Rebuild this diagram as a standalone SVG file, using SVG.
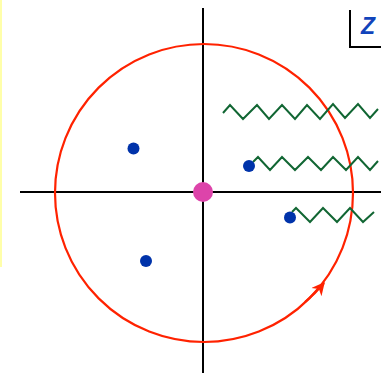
<svg xmlns="http://www.w3.org/2000/svg" width="381" height="373" viewBox="0 0 381 373">
<style>
.axis{stroke:#000;stroke-width:2;fill:none}
.zig{stroke:#116633;stroke-width:2;fill:none;stroke-linejoin:miter}
.dot{fill:#0033aa}
</style>
<defs>
<marker id="arr" viewBox="0 0 10 10" refX="9" refY="5" markerWidth="7" markerHeight="6" orient="auto" markerUnits="strokeWidth">
<path d="M0,0 L10,5 L0,10 L3,5 Z" fill="#ff2200"/>
</marker>
</defs>
<rect x="0" y="0" width="381" height="373" fill="#fff"/>
<line x1="1" y1="0" x2="1" y2="267" stroke="#ffffaa" stroke-width="2"/>
<g id="connectors">
<line class="axis" x1="20" y1="192" x2="381" y2="192"/>
<line class="axis" x1="203" y1="8" x2="203" y2="373"/>
<circle cx="204" cy="193" r="149" fill="none" stroke="#ff2200" stroke-width="2.2"/>
<path d="M305,302 A149,149 0 0 0 324,283" fill="none" stroke="#ff2200" stroke-width="2.2" marker-end="url(#arr)"/>
<polyline class="zig" points="223,113 230,105 243,119 257,105 269,119 282,105 295,119 307,105 320,119 333,104 345,118 358,104 370,118 378,109"/>
<polyline class="zig" points="253,162 258,157 270,170 282,157 295,170 308,157 321,170 333,157 346,170 358,157 370,170 378,161"/>
<polyline class="zig" points="292,212 296,208 310,222 323,208 337,222 350,208 363,222 374,212"/>
</g>
<g id="origin"><circle cx="203" cy="192" r="10" fill="#dd44aa"/></g>
<g id="dot1"><circle class="dot" cx="133.5" cy="148.5" r="6"/></g>
<g id="dot2"><circle class="dot" cx="146" cy="261" r="6"/></g>
<g id="dot3"><circle class="dot" cx="249" cy="166" r="6"/></g>
<g id="dot4"><circle class="dot" cx="290" cy="217.5" r="6"/></g>
<g id="zlabel">
<polyline points="350,10 350,47 381,47" fill="none" stroke="#000" stroke-width="2"/>
<text x="361" y="34" font-family="Liberation Sans, sans-serif" font-size="23" font-weight="bold" font-style="italic" fill="#1144bb">Z</text>
</g>
</svg>
